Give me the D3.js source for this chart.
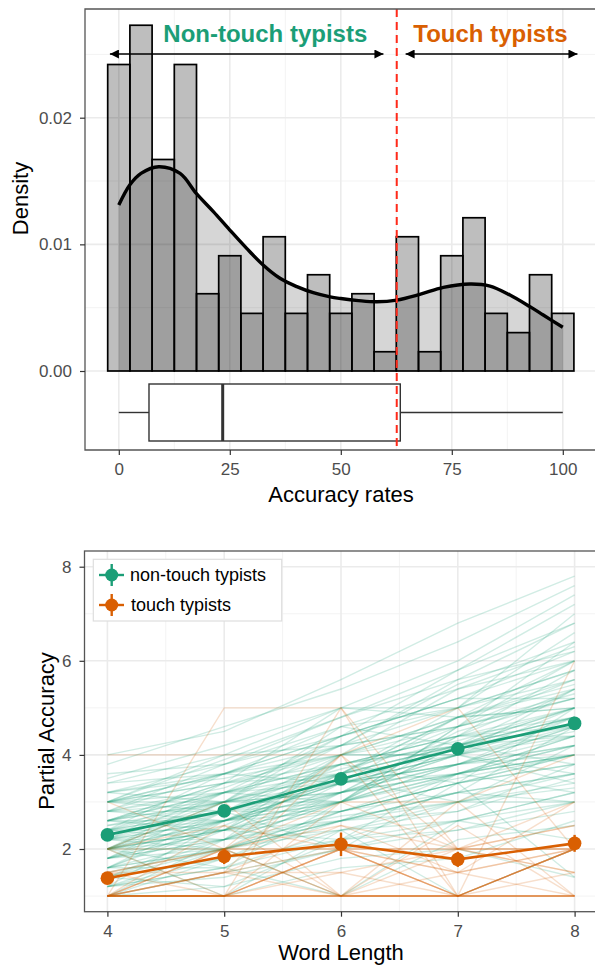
<!DOCTYPE html>
<html><head><meta charset="utf-8">
<script src="https://cdn.jsdelivr.net/npm/d3@7"></script>
<style>
html,body{margin:0;padding:0;background:#fff;}
svg{display:block;font-family:"Liberation Sans",Arial,Helvetica,sans-serif;}
</style></head><body>
<svg id="chart" width="595" height="966"></svg>
<script>
// ---------------- DATA ----------------
const binCenters = [0,5,10,15,20,25,30,35,40,45,50,55,60,65,70,75,80,85,90,95,100];
const binDensity = [0.0242,0.0273,0.0167,0.0242,0.0061,0.0091,0.00455,0.0106,0.00455,0.0076,0.00455,0.0061,0.00152,0.0106,0.00152,0.0091,0.0121,0.00455,0.00303,0.0076,0.00455];
const densX = [0,2.5,5,9,13.8,17.5,21.3,25,28.8,32.5,36.3,40.1,43.8,47.6,50,54,58.1,62.6,67.8,73.1,79.1,83.6,88.1,92.6,95.6,100];
const densY = [0.0131,0.0147,0.0156,0.01613,0.0156,0.0140,0.01258,0.01113,0.00968,0.00837,0.00732,0.00666,0.00618,0.00585,0.00572,0.00556,0.00547,0.0056,0.00605,0.0066,0.00687,0.00671,0.0060,0.00508,0.00442,0.00345];
const boxStats = {min:0, q1:6.8, median:23.4, q3:63.4, max:100};
const cutoff = 62.6;
const arrowRanges = [[-2,59.6],[64.6,103.3]];
const groupLabels = ["Non-touch typists","Touch typists"];
const groupLabelX = [33.0, 83.7];
const histXTicks = [0,25,50,75,100];
const histYTicks = [0,0.01,0.02];

const wordLengths = [4,5,6,7,8];
const nonTouchMean = [2.30,2.81,3.49,4.13,4.67];
const nonTouchSE = [0.09,0.10,0.11,0.12,0.13];
const touchMean = [1.38,1.84,2.10,1.78,2.12];
const touchSE = [0.12,0.16,0.25,0.16,0.18];
const lineYTicks = [2,4,6,8];
const seriesNames = ["non-touch typists","touch typists"];

const nonTouchLines = [
[3.0,3.6,4.6,5.4,6.3],[2.0,2.4,3.0,3.5,4.0],[1.5,2.0,2.6,3.2,3.6],[3.0,3.9,4.8,5.8,6.8],
[2.5,3.0,3.7,4.3,5.0],[1.0,1.5,2.0,2.4,2.8],[2.2,2.6,3.4,4.0,4.5],[3.5,4.2,5.0,6.0,7.4],
[1.8,2.2,2.7,3.0,3.3],[2.8,3.3,4.2,5.0,5.6],[1.2,1.6,1.0,2.2,2.5],[2.0,3.0,3.2,4.5,5.2],
[3.2,3.5,4.0,4.8,5.5],[1.6,2.5,3.5,3.0,4.2],[2.4,2.2,3.0,4.2,4.8],[4.0,4.5,5.6,6.8,7.8],
[1.0,1.2,1.8,2.0,1.4],[2.6,3.4,3.8,4.4,5.0],[2.0,2.8,4.0,4.6,6.0],[1.4,1.8,2.2,3.0,3.0],
[3.0,3.0,4.4,5.2,6.0],[2.2,2.0,2.8,3.4,3.8],[1.8,2.6,3.0,3.8,4.4],[2.8,3.8,4.6,5.0,6.6],
[1.2,2.0,2.4,2.8,3.5],[2.5,2.8,3.2,3.6,4.0],[3.4,4.0,4.2,5.5,6.4],[1.0,1.8,2.8,3.4,4.0],
[2.0,2.4,3.6,4.0,4.6],[2.6,3.2,3.0,4.6,5.3],[1.6,1.6,2.4,2.6,3.2],[3.0,3.4,5.0,5.0,7.0],
[2.2,3.0,3.4,4.0,5.4],[1.4,2.2,3.2,3.8,4.2],[2.8,2.6,3.6,4.8,5.0],[2.0,2.0,2.6,3.2,3.0],
[3.6,3.8,4.8,5.6,6.2],[1.8,2.4,2.2,3.6,4.0],[2.4,3.6,4.0,4.4,5.8],[1.2,1.4,2.0,2.6,2.2],
[3.0,3.2,3.8,4.2,4.6],[2.0,2.6,3.8,3.4,5.0],[2.6,2.4,4.0,4.8,5.6],[1.6,2.8,3.0,4.4,4.8],
[2.2,3.4,3.6,4.2,3.8],[3.2,3.0,4.2,4.6,6.4],[1.0,1.0,1.6,1.8,2.6],[2.4,2.8,2.8,3.6,4.4],
[2.8,3.6,4.4,5.2,5.2],[1.8,2.0,3.2,4.0,3.6],[2.0,3.2,3.4,3.8,4.8],[3.0,2.8,3.6,5.0,5.8],
[1.4,2.4,2.6,3.2,4.6],[2.6,3.0,4.6,4.2,5.4],[2.2,2.2,3.0,3.6,4.2],[1.6,2.2,4.0,4.0,3.4],
[3.4,3.6,4.4,5.8,7.2],[2.0,2.2,2.4,3.0,3.6],[2.4,3.0,3.2,4.4,4.4],[1.2,1.8,2.6,2.8,3.8],
[2.8,3.2,4.0,4.0,5.0],[1.8,3.0,3.6,4.6,5.2],[2.6,2.6,3.4,3.8,4.0],[2.0,1.6,3.0,4.2,4.8],
[3.0,4.0,5.0,4.8,6.0],[1.4,1.2,2.2,2.4,3.0],[2.4,2.6,3.0,4.6,5.6],[1.0,2.2,2.6,3.6,3.2],
[3.2,3.6,3.4,4.2,5.0],[2.2,2.8,3.8,4.4,4.6],[2.0,1.0,2.4,1.0,2.0],[1.6,2.0,1.0,2.6,3.0],
[3.8,4.6,5.4,6.4,7.6],[2.6,3.4,4.2,5.6,6.8],[1.8,2.8,2.0,3.4,1.4],[2.4,3.2,4.4,5.2,6.2],
[1.2,2.6,3.4,4.8,5.4],[3.0,3.4,4.0,5.4,6.0],
[2.2,2.4,3.2,3.8,4.2],[1.8,2.4,3.0,3.6,4.0],[2.6,3.0,3.6,4.2,4.8],[2.0,2.6,3.2,4.0,4.4],
[3.0,3.6,4.2,4.6,5.2],[1.6,2.0,2.8,3.4,3.8],[2.4,2.8,3.4,3.8,4.6],[1.4,2.0,2.6,3.0,3.4],
[2.8,3.0,3.8,4.4,5.4],[2.2,2.6,2.8,3.4,4.0],[1.8,2.2,3.4,3.6,4.4],[2.6,3.2,3.6,4.8,5.0],
[2.0,2.4,2.8,3.2,3.6],[3.2,3.8,4.4,5.0,5.8],[1.2,1.6,2.2,2.6,3.2],[2.4,2.4,3.6,4.2,4.4],
[2.0,3.0,3.0,3.8,4.6],[1.6,2.6,3.2,3.6,4.2],[2.8,2.8,3.4,4.0,4.8],[2.2,3.2,3.8,4.2,5.0]
];
const touchLines = [
[1,1,1,1,1],[1,1,1,1,1],[1,1,1,1,1],[1,2,2,1,2],[1,1.5,2,1.5,2],
[4,4,4,2,2],[1,5,5,2,2],[1,1,5,1,6],[2,2,1,1,1.5],[1,1.5,1,2,2.5],
[1.5,2,3,2,2],[1,1,2,1,1],[2,2.5,1,3,1],[1,1,1.5,1,2],[1,2,2.5,2,3],
[1.5,1,2,1.5,1],[1,2.5,2,1,2],[1,1,3,3,4],[2,3,1,1,2],[1,1.5,1.5,2,1.5],
[1,1,1,2.5,1],[3,2,4,1,2],[1,1,2,2,1.5],[1.5,1.5,2.5,1.5,3],[1,2,1,1,1],
[1,1,1,1.5,2],[2,1,2,2,2.5],[1,1.5,4,5,2],[1,1,1,1,1],[1.5,2,2,1,2]
];

// ---------------- LAYOUT ----------------
const svg = d3.select("#chart");
const green = "#1b9e77", orange = "#d95f02";
const gridMajor = "#ebebeb", gridMinor = "#f3f3f3";
const tickCol = "#333333", labCol = "#4d4d4d";

// ===== TOP PANEL =====
const P1 = {left:85, right:597, top:9, bottom:450};
const x1 = d3.scaleLinear().domain([0,100]).range([118.8,562.8]);
const y1 = d3.scaleLinear().domain([0,0.02]).range([371,117.7]);
const g1 = svg.append("g");

[12.5,37.5,62.5,87.5].forEach(v=>g1.append("line").attr("x1",x1(v)).attr("x2",x1(v)).attr("y1",P1.top).attr("y2",P1.bottom).attr("stroke",gridMinor).attr("stroke-width",1));
[0.005,0.015,0.025].forEach(v=>g1.append("line").attr("x1",P1.left).attr("x2",P1.right).attr("y1",y1(v)).attr("y2",y1(v)).attr("stroke",gridMinor).attr("stroke-width",1));
histXTicks.forEach(v=>g1.append("line").attr("x1",x1(v)).attr("x2",x1(v)).attr("y1",P1.top).attr("y2",P1.bottom).attr("stroke",gridMajor).attr("stroke-width",1.6));
histYTicks.forEach(v=>g1.append("line").attr("x1",P1.left).attr("x2",P1.right).attr("y1",y1(v)).attr("y2",y1(v)).attr("stroke",gridMajor).attr("stroke-width",1.6));

const densPts = densX.map((d,i)=>[d,densY[i]]);
const crv = d3.curveCatmullRom.alpha(0.5);
g1.append("path").datum(densPts)
  .attr("d", d3.area().x(d=>x1(d[0])).y0(y1(0)).y1(d=>y1(d[1])).curve(crv))
  .attr("fill","rgba(0,0,0,0.16)");

const bw = 5;
g1.selectAll("rect.bar").data(binCenters).enter().append("rect")
  .attr("x", d=>x1(d-bw/2)).attr("width", d=>x1(d+bw/2)-x1(d-bw/2))
  .attr("y", (d,i)=>y1(binDensity[i])).attr("height",(d,i)=>y1(0)-y1(binDensity[i]))
  .attr("fill","rgba(0,0,0,0.255)").attr("stroke","#000").attr("stroke-width",1.7);

g1.append("path").datum(densPts)
  .attr("d", d3.line().x(d=>x1(d[0])).y(d=>y1(d[1])).curve(crv))
  .attr("fill","none").attr("stroke","#000").attr("stroke-width",3.4);

// boxplot
const bTop=384, bBot=441, bMid=412.5;
g1.append("line").attr("x1",x1(boxStats.min)).attr("x2",x1(boxStats.q1)).attr("y1",bMid).attr("y2",bMid).attr("stroke",tickCol).attr("stroke-width",1.4);
g1.append("line").attr("x1",x1(boxStats.q3)).attr("x2",x1(boxStats.max)).attr("y1",bMid).attr("y2",bMid).attr("stroke",tickCol).attr("stroke-width",1.4);
g1.append("rect").attr("x",x1(boxStats.q1)).attr("width",x1(boxStats.q3)-x1(boxStats.q1)).attr("y",bTop).attr("height",bBot-bTop)
  .attr("fill","#fff").attr("stroke",tickCol).attr("stroke-width",1.4);
g1.append("line").attr("x1",x1(boxStats.median)).attr("x2",x1(boxStats.median)).attr("y1",bTop).attr("y2",bBot).attr("stroke",tickCol).attr("stroke-width",3);

g1.append("line").attr("x1",x1(cutoff)).attr("x2",x1(cutoff)).attr("y1",P1.top).attr("y2",P1.bottom)
  .attr("stroke","#ff2a1a").attr("stroke-width",2).attr("stroke-dasharray","8,5");

const defs = svg.append("defs");
defs.append("marker").attr("id","ah").attr("viewBox","0 0 10 10").attr("refX",10).attr("refY",5)
  .attr("markerWidth",10).attr("markerHeight",9).attr("markerUnits","userSpaceOnUse")
  .attr("orient","auto-start-reverse")
  .append("path").attr("d","M0,0 L10,5 L0,10 z").attr("fill","#000");
arrowRanges.forEach(r=>{
  g1.append("line").attr("x1",x1(r[0])).attr("x2",x1(r[1])).attr("y1",54).attr("y2",54)
    .attr("stroke","#000").attr("stroke-width",1.6)
    .attr("marker-start","url(#ah)").attr("marker-end","url(#ah)");
});
groupLabels.forEach((t,i)=>{
  g1.append("text").attr("x",x1(groupLabelX[i])).attr("y",41.5).attr("text-anchor","middle")
    .attr("font-size",24).attr("font-weight","bold").attr("fill",i===0?green:orange).text(t);
});

g1.append("path").attr("d",`M${P1.left},${P1.bottom} L${P1.left},${P1.top} L${P1.right},${P1.top} L${P1.right},${P1.bottom} Z`)
  .attr("fill","none").attr("stroke","#555").attr("stroke-width",1.3);

const ax1y = g1.append("g").attr("transform",`translate(${P1.left},0)`)
  .call(d3.axisLeft(y1).tickValues(histYTicks).tickFormat(d3.format(".2f")).tickSize(5).tickPadding(8));
const ax1x = g1.append("g").attr("transform",`translate(0,${P1.bottom})`)
  .call(d3.axisBottom(x1).tickValues(histXTicks).tickFormat(d3.format("d")).tickSize(5).tickPadding(8.3));
[ax1y,ax1x].forEach(a=>{
  a.select(".domain").remove();
  a.selectAll("line").attr("stroke",tickCol).attr("stroke-width",1.2);
  a.selectAll("text").attr("font-size",17).attr("fill",labCol).attr("font-family","Liberation Sans, Arial, sans-serif");
});
g1.append("text").attr("x",341).attr("y",502).attr("text-anchor","middle").attr("font-size",22).attr("fill","#000").text("Accuracy rates");
g1.append("text").attr("transform","translate(28,198.5) rotate(-90)").attr("text-anchor","middle").attr("font-size",22).attr("fill","#000").text("Density");

// ===== BOTTOM PANEL =====
const P2 = {left:84.5, right:598, top:551, bottom:911.7};
const x2 = d3.scaleLinear().domain([4,8]).range([107.4,574.6]);
const y2 = d3.scaleLinear().domain([2,8]).range([849,566.7]);
const g2 = svg.append("g");
[4.5,5.5,6.5,7.5].forEach(v=>g2.append("line").attr("x1",x2(v)).attr("x2",x2(v)).attr("y1",P2.top).attr("y2",P2.bottom).attr("stroke",gridMinor).attr("stroke-width",1));
[1,3,5,7].forEach(v=>g2.append("line").attr("x1",P2.left).attr("x2",P2.right).attr("y1",y2(v)).attr("y2",y2(v)).attr("stroke",gridMinor).attr("stroke-width",1));
wordLengths.forEach(v=>g2.append("line").attr("x1",x2(v)).attr("x2",x2(v)).attr("y1",P2.top).attr("y2",P2.bottom).attr("stroke",gridMajor).attr("stroke-width",1.6));
lineYTicks.forEach(v=>g2.append("line").attr("x1",P2.left).attr("x2",P2.right).attr("y1",y2(v)).attr("y2",y2(v)).attr("stroke",gridMajor).attr("stroke-width",1.6));

const ln = d3.line().x((d,i)=>x2(wordLengths[i])).y(d=>y2(d));
g2.selectAll("path.nt").data(nonTouchLines).enter().append("path")
  .attr("d",ln).attr("fill","none").attr("stroke",green).attr("stroke-opacity",0.2).attr("stroke-width",1.4);
g2.selectAll("path.tt").data(touchLines).enter().append("path")
  .attr("d",ln).attr("fill","none").attr("stroke",orange).attr("stroke-opacity",0.2).attr("stroke-width",1.4);

function meanSeries(mean, se, col){
  g2.append("path").datum(mean).attr("d",ln).attr("fill","none").attr("stroke",col).attr("stroke-width",2.6);
  mean.forEach((m,i)=>{
    g2.append("line").attr("x1",x2(wordLengths[i])).attr("x2",x2(wordLengths[i]))
      .attr("y1",y2(m-se[i])).attr("y2",y2(m+se[i])).attr("stroke",col).attr("stroke-width",2.4);
    g2.append("circle").attr("cx",x2(wordLengths[i])).attr("cy",y2(m)).attr("r",6.8).attr("fill",col);
  });
}
meanSeries(nonTouchMean, nonTouchSE, green);
meanSeries(touchMean, touchSE, orange);

g2.append("rect").attr("x",P2.left).attr("y",P2.top).attr("width",P2.right-P2.left).attr("height",P2.bottom-P2.top)
  .attr("fill","none").attr("stroke","#555").attr("stroke-width",1.3);

const ax2y = g2.append("g").attr("transform",`translate(${P2.left},0)`)
  .call(d3.axisLeft(y2).tickValues(lineYTicks).tickFormat(d3.format("d")).tickSize(5).tickPadding(8));
const ax2x = g2.append("g").attr("transform",`translate(0,${P2.bottom})`)
  .call(d3.axisBottom(x2).tickValues(wordLengths).tickFormat(d3.format("d")).tickSize(5).tickPadding(8));
[ax2y,ax2x].forEach(a=>{
  a.select(".domain").remove();
  a.selectAll("line").attr("stroke",tickCol).attr("stroke-width",1.2);
  a.selectAll("text").attr("font-size",17).attr("fill",labCol).attr("font-family","Liberation Sans, Arial, sans-serif");
});
g2.append("text").attr("x",341).attr("y",960).attr("text-anchor","middle").attr("font-size",22).attr("fill","#000").text("Word Length");
g2.append("text").attr("transform","translate(54,731) rotate(-90)").attr("text-anchor","middle").attr("font-size",22).attr("fill","#000").text("Partial Accuracy");

const lg = g2.append("g");
lg.append("rect").attr("x",93.3).attr("y",559.3).attr("width",188.4).attr("height",61.7).attr("fill","#fff").attr("stroke","#dedede").attr("stroke-width",1.2);
seriesNames.forEach((s,i)=>{
  const cy = 575 + i*30, col = i===0?green:orange;
  lg.append("line").attr("x1",99).attr("x2",124).attr("y1",cy).attr("y2",cy).attr("stroke",col).attr("stroke-width",2.4);
  lg.append("line").attr("x1",111.7).attr("x2",111.7).attr("y1",cy-11).attr("y2",cy+11).attr("stroke",col).attr("stroke-width",2.4);
  lg.append("circle").attr("cx",111.7).attr("cy",cy).attr("r",6.5).attr("fill",col);
  lg.append("text").attr("x",130+i).attr("y",cy+6.3).attr("font-size",18).attr("fill","#000").text(s);
});
</script>
</body></html>
